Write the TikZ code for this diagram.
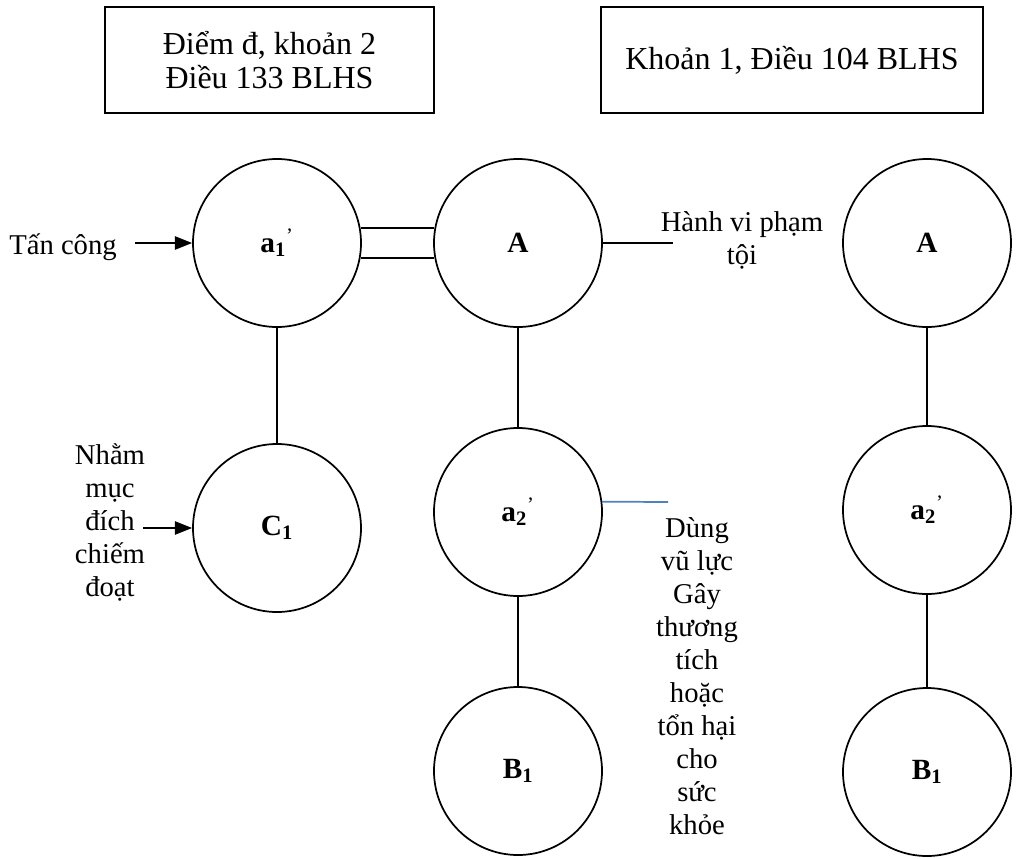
\documentclass[tikz,border=0pt]{standalone}
\usepackage{fontspec}
\setmainfont{Liberation Serif}
\usetikzlibrary{arrows.meta}
\definecolor{xanh}{RGB}{79,129,189}
\begin{document}
\begin{tikzpicture}[x=0.75pt,y=-0.75pt]
\tikzstyle{every node}+=[inner sep=0pt]
\tikzstyle{vong}=[draw,circle,line width=1.3pt,minimum size=126pt,font=\fontsize{22}{24}\selectfont\bfseries]
\tikzstyle{hop}=[draw,line width=1.3pt,align=center,minimum height=79.5pt,font=\fontsize{24}{25.5}\selectfont]
\tikzstyle{chu}=[align=center,font=\fontsize{21.5}{24.75}\selectfont]
\tikzstyle{noi}=[line width=1.3pt]
\tikzstyle{mui}=[line width=1.3pt,-{Triangle[length=13pt,width=10pt]}]
\useasboundingbox (0,0) rectangle (1022,858);
\node [hop,minimum width=246.75pt] (dieu133) at (269.5,60) {Điểm đ, khoản 2\\Điều 133 BLHS};
\node [hop,minimum width=286.5pt] (dieu104) at (792,60) {Khoản 1, Điều 104 BLHS};
\node [vong] (a1) at (277,243) {a\textsubscript{1}\textsuperscript{\mdseries ’}};
\node [vong] (A) at (518,243) {A};
\node [vong] (Ar) at (927,243) {A};
\node [vong] (C1) at (277,528) {C\textsubscript{1}};
\node [vong] (a2) at (518,512) {a\textsubscript{2}\textsuperscript{\mdseries ’}};
\node [vong] (B1) at (518,771) {B\textsubscript{1}};
\node [vong] (a2r) at (927,510) {a\textsubscript{2}\textsuperscript{\mdseries ’}};
\node [vong] (B1r) at (927,772) {B\textsubscript{1}};
\node [chu,anchor=east] (tancong) at (117,247) {Tấn công};
\node [chu] (nham) at (110,522) {Nhằm\\mục\\đích\\chiếm\\đoạt};
\node [chu] (hanhvi) at (742,240) {Hành vi phạm\\tội};
\node [chu] (dung) at (697,676) {Dùng\\vũ lực\\Gây\\thương\\tích\\hoặc\\tổn hại\\cho\\sức\\khỏe};
\coordinate (tcdau) at (135,243);
\coordinate (nhamdau) at (143,528);
\coordinate (hvdau) at (673,243);
\coordinate (dungdau) at (668,502);
\draw [mui] (tcdau) -- (a1.west);
\draw [mui] (nhamdau) -- (C1.west);
\draw [noi] (a1.10) -- (A.170);
\draw [noi] (a1.-10) -- (A.190);
\draw [noi] (A.east) -- (hvdau);
\draw [noi] (a1.south) -- (C1.north);
\draw [noi] (A.south) -- (a2.north);
\draw [noi] (a2.south) -- (B1.north);
\draw [noi,xanh] (a2.7) -- (dungdau);
\draw [noi] (Ar.south) -- (a2r.north);
\draw [noi] (a2r.south) -- (B1r.north);
\end{tikzpicture}
\end{document}
